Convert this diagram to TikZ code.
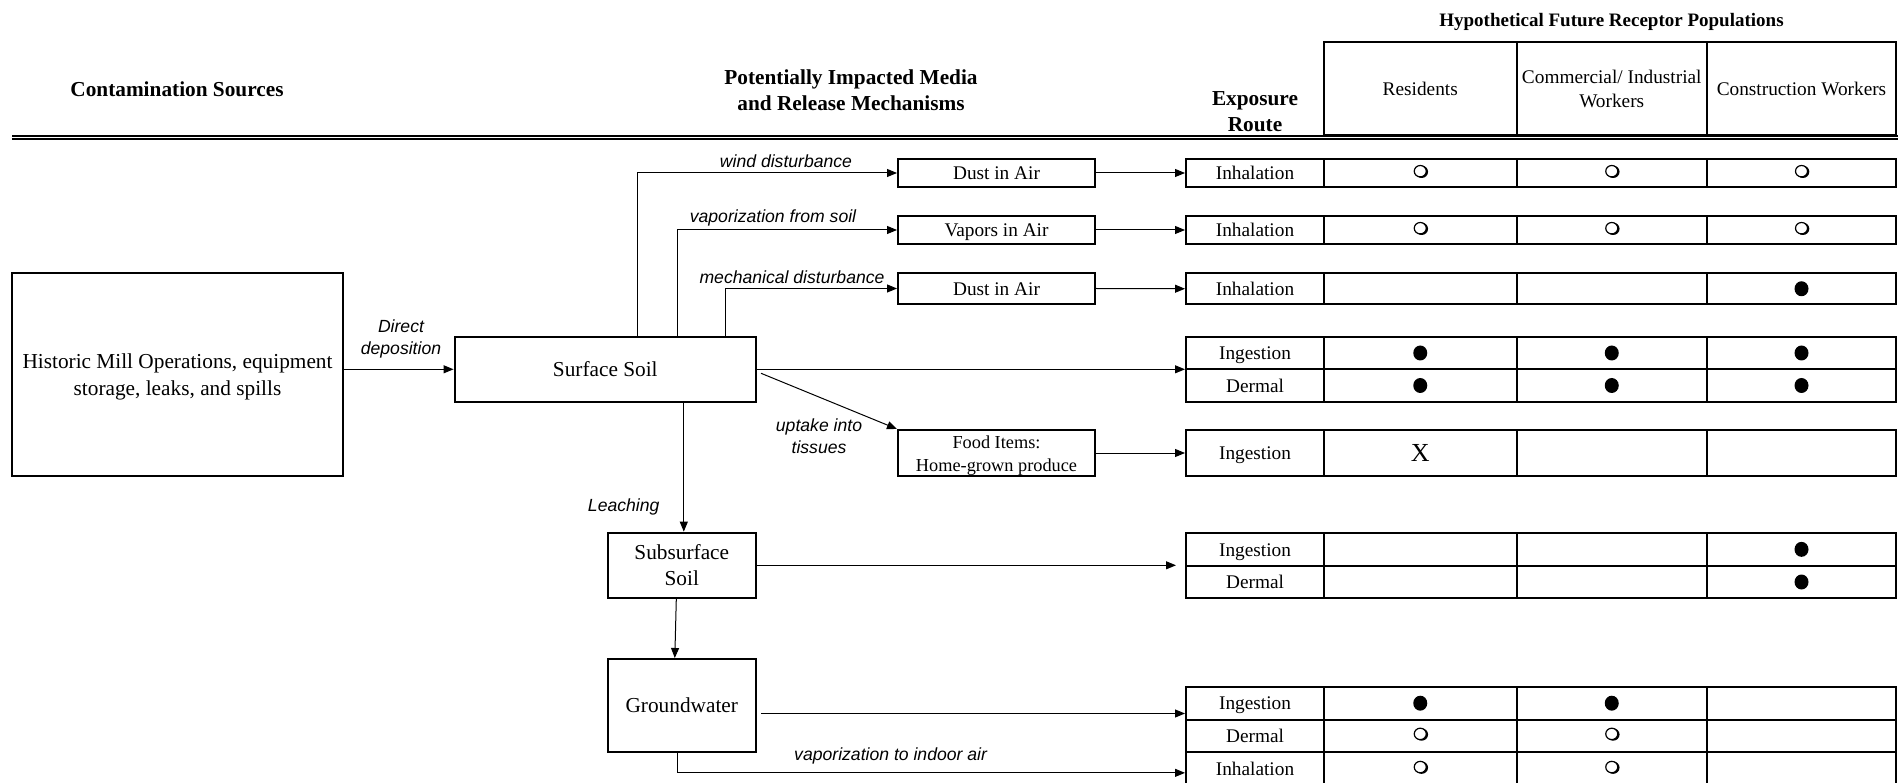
\documentclass[tikz,border=0pt]{standalone}
\usepackage{fontspec}
\setmainfont{Liberation Serif}
\newfontfamily\lsans{Liberation Sans}
\usetikzlibrary{arrows.meta,calc}
\newcommand\mkrow[4]{%
  \pgfmathsetmacro\rh{#3-#2}\pgfmathsetmacro\rc{(#3+#2)/2}%
  \node[cell, minimum width=138pt, minimum height=\rh pt] (#1a) at (1255,\rc) {#4};
  \node[cell, minimum width=192.5pt, minimum height=\rh pt] (#1b) at (1420.25,\rc) {};
  \node[cell, minimum width=190.5pt, minimum height=\rh pt] (#1c) at (1611.75,\rc) {};
  \node[cell, minimum width=189pt, minimum height=\rh pt] (#1d) at (1801.5,\rc) {};
}
\begin{document}
\begin{tikzpicture}[x=1pt,y=-1pt,
  box/.style={draw, line width=2pt, inner sep=0pt, align=center, font=\fontsize{21.3}{26}\selectfont},
  mbox/.style={box, font=\fontsize{19.3}{22}\selectfont, text height=13.3pt, text depth=0pt},
  cell/.style={draw, line width=2pt, inner sep=0pt, align=center, font=\fontsize{19.3}{22}\selectfont, text height=13.3pt, text depth=0pt},
  ctext/.style={inner sep=0pt, align=center, font=\fontsize{19.3}{24}\selectfont},
  lbl/.style={font=\lsans\itshape\fontsize{17.6}{21.5}\selectfont, inner sep=0pt, align=center},
  hdr/.style={font=\bfseries\fontsize{21.3}{26}\selectfont, inner sep=0pt, align=center},
  arr/.style={line width=1pt, -{Triangle[length=10pt,width=8pt]}},
  fdot/.pic={\fill (0,0) ellipse [x radius=7, y radius=7.5];},
  odot/.pic={\fill (1.4,-1.2) ellipse [x radius=6.4, y radius=6.2];
             \filldraw[fill=white, line width=1.2pt] (0,-1.8) ellipse [x radius=6, y radius=5.7];},
]
\useasboundingbox (0,0) rectangle (1898,783);

% headers
\node[hdr] (hcs) at (177,89) {Contamination Sources};
\node[hdr] (hpim) at (851,90.3) {Potentially Impacted Media\\and Release Mechanisms};
\node[hdr] (her) at (1255,112) {Exposure\\Route};
\node[hdr, font=\bfseries\fontsize{19}{22}\selectfont] (hhf) at (1611.5,21.5) {Hypothetical Future Receptor Populations};
\node[cell, minimum width=192.5pt, minimum height=93.3pt] (h1) at (1420.25,88.35) {};
\node[cell, minimum width=190.5pt, minimum height=93.3pt] (h2) at (1611.75,88.35) {};
\node[cell, minimum width=189pt, minimum height=93.3pt] (h3) at (1801.5,88.35) {};
\node[ctext] (t1) at (1420.25,88.8) {Residents};
\node[ctext] (t2) at (1611.75,88.8) {Commercial/ Industrial\\Workers};
\node[ctext] (t3) at (1801.5,88.8) {Construction Workers};

% double rule
\coordinate (dl1) at (12,135.8);
\coordinate (dl2) at (12,138.9);
\draw[line width=1.8pt] (dl1) -- (dl1 -| 1898,0);
\draw[line width=1.8pt] (dl2) -- (dl2 -| 1898,0);

% media boxes
\node[box, minimum width=331pt, minimum height=203.3pt] (mill) at (177.5,374.4) {};
\node[inner sep=0pt, align=center, font=\fontsize{21.3}{27}\selectfont] (millt) at (177.5,377) {Historic Mill Operations, equipment\\storage, leaks, and spills};
\node[box, minimum width=301.5pt, minimum height=65.3pt] (surf) at (605.3,369.3) {Surface Soil};
\node[box, minimum width=148.4pt, minimum height=65.3pt] (sub) at (681.8,565.3) {Subsurface\\Soil};
\node[box, minimum width=148.4pt, minimum height=93pt] (gw) at (681.8,705.5) {Groundwater};
\node[mbox, minimum width=197pt, minimum height=28pt] (dust1) at (996.5,173) {Dust in Air};
\node[mbox, minimum width=197pt, minimum height=28pt] (vap) at (996.5,230) {Vapors in Air};
\node[mbox, minimum width=197pt, minimum height=31pt] (dust2) at (996.5,288.5) {Dust in Air};
\node[box, minimum width=197pt, minimum height=46pt] (food) at (996.5,453) {};
\node[inner sep=0pt, align=center, font=\fontsize{18.3}{23}\selectfont] (foodt) at (996.5,456) {Food Items:\\Home-grown produce};

% table rows
\mkrow{r1}{159}{187}{Inhalation}
\mkrow{r2}{216}{244}{Inhalation}
\mkrow{r3}{273}{304.5}{Inhalation}
\mkrow{r4}{336.7}{369.3}{Ingestion}
\mkrow{r5}{369.3}{401.7}{Dermal}
\mkrow{r6}{430}{476}{Ingestion}
\mkrow{r7}{532.7}{566}{Ingestion}
\mkrow{r8}{566}{598}{Dermal}
\mkrow{r9}{686.7}{719.7}{Ingestion}
\mkrow{r10}{719.7}{751.7}{Dermal}
\mkrow{r11}{751.7}{786}{Inhalation}

% markers
\pic at (r1b) {odot}; \pic at (r1c) {odot}; \pic at (r1d) {odot};
\pic at (r2b) {odot}; \pic at (r2c) {odot}; \pic at (r2d) {odot};
\pic at (r3d) {fdot};
\pic at (r4b) {fdot}; \pic at (r4c) {fdot}; \pic at (r4d) {fdot};
\pic at (r5b) {fdot}; \pic at (r5c) {fdot}; \pic at (r5d) {fdot};
\node[inner sep=0pt, font=\fontsize{26}{26}\selectfont] (x6) at (r6b) {X};
\pic at (r7d) {fdot};
\pic at (r8d) {fdot};
\pic at (r9b) {fdot}; \pic at (r9c) {fdot};
\pic at (r10b) {odot}; \pic at (r10c) {odot};
\pic at (r11b) {odot}; \pic at (r11c) {odot};

% connectors
\draw[arr] (mill.east |- surf.west) -- (surf.west);
\draw[arr] ($(surf.north west)+(184,0)$) |- (dust1.west);
\draw[arr] ($(surf.north west)+(223.5,0)$) |- (vap.west);
\draw[arr] ($(surf.north west)+(271.5,0)$) |- (dust2.west);
\draw[arr] (surf.east) -- (surf.east -| r4a.west);
\draw[arr] ($(surf.east)+(4,4)$) -- (food.north west);
\coordinate (lt) at ($(sub.north)+(2,0)$);
\draw[arr] (lt |- surf.south) -- (lt);
\draw[arr] ($(sub.south)+(-5.5,0)$) -- ($(gw.north)+(-7,0)$);
\draw[arr, shorten >=9pt] (sub.east) -- (sub.east -| r7a.west);
\coordinate (g1) at ($(gw.east)+(4,8)$);
\draw[arr] (g1) -- (g1 -| r9a.west);
\coordinate (g2) at ($(gw.south)+(-4,0)$);
\draw[arr] (g2) |- ($(r11a.west)+(0,4)$);
\draw[arr] (dust1.east) -- (r1a.west);
\draw[arr] (vap.east) -- (r2a.west);
\draw[arr] (dust2.east) -- (r3a.west);
\draw[arr] (food.east) -- (r6a.west);

% labels
\node[lbl] (l1) at (401,339) {Direct\\deposition};
\node[lbl] (l2) at (786,161.7) {wind disturbance};
\node[lbl] (l3) at (773,217.7) {vaporization from soil};
\node[lbl] (l4) at (792,277) {mechanical disturbance};
\node[lbl] (l5) at (819,436) {uptake into\\tissues};
\node[lbl] (l6) at (623.7,507.3) {Leaching};
\node[lbl] (l7) at (890.6,755.7) {vaporization to indoor air};
\end{tikzpicture}
\end{document}
